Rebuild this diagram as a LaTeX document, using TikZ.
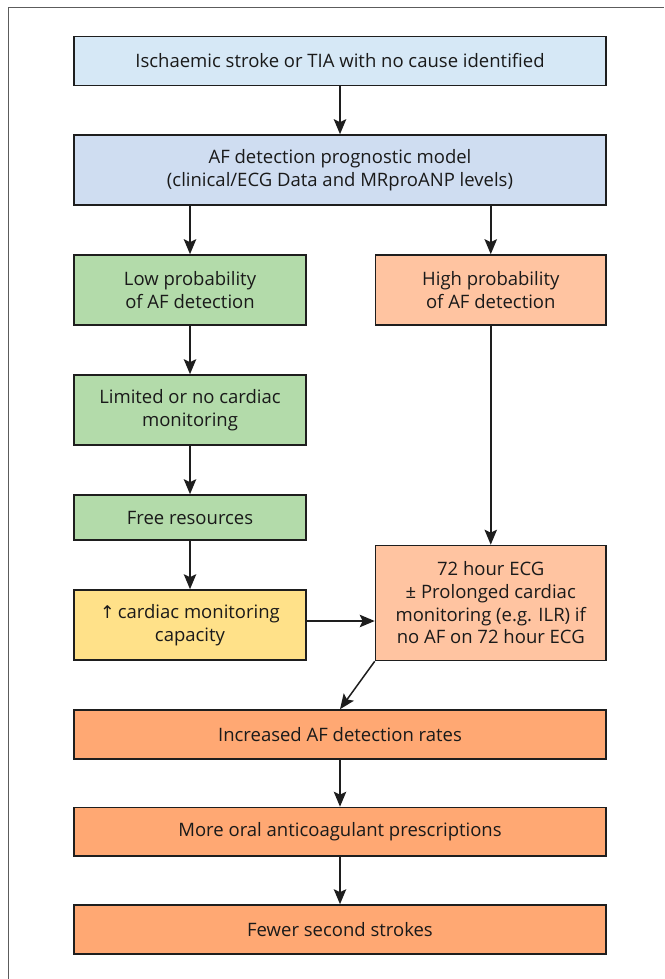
\documentclass[tikz,border=0pt]{standalone}
\usepackage{fontspec}
\setmainfont{Open Sans}
\newfontfamily\symfnt{DejaVu Sans}
\usetikzlibrary{arrows.meta,calc}
\definecolor{cBlueA}{HTML}{D6E8F6}
\definecolor{cBlueB}{HTML}{CFDDF1}
\definecolor{cGreen}{HTML}{B3DBAA}
\definecolor{cPeach}{HTML}{FFC4A1}
\definecolor{cYellow}{HTML}{FFE189}
\definecolor{cOrange}{HTML}{FFA873}
\definecolor{cBorder}{HTML}{1E1E1E}
\definecolor{cFrame}{HTML}{5C5C5C}
\definecolor{cText}{HTML}{1A1A1A}
\begin{document}
\begin{tikzpicture}[x=1pt,y=-1pt,
  boxstyle/.style={draw=cBorder,line width=1.6pt,inner sep=0pt,align=center,
    text=cText,font=\fontsize{18.5}{22.7}\selectfont},
  arr/.style={draw=cBorder,line width=1.5pt,-{Stealth[length=15pt,width=12.5pt,inset=3pt]}}]
\useasboundingbox (0,0) rectangle (664,979);
\draw[cFrame,line width=1.3pt] (8.5,979) -- (8.5,7.5) -- (664,7.5);
\node[boxstyle,fill=cBlueA,minimum width=532pt,minimum height=49pt] (b1) at (340,61) {Ischaemic stroke or TIA with no cause identified};
\node[boxstyle,fill=cBlueB,minimum width=532pt,minimum height=70pt] (b2) at (340,170) {AF detection prognostic model\\(clinical/ECG Data and MRproANP levels)};
\node[boxstyle,fill=cGreen,minimum width=232pt,minimum height=70pt] (lo) at (190,290) {Low probability\\of AF detection};
\node[boxstyle,fill=cPeach,minimum width=230.5pt,minimum height=70pt] (hi) at (490.75,290) {High probability\\of AF detection};
\node[boxstyle,fill=cGreen,minimum width=232pt,minimum height=70pt] (lim) at (190,410) {Limited or no cardiac\\monitoring};
\node[boxstyle,fill=cGreen,minimum width=232pt,minimum height=45pt] (free) at (190,517.5) {Free resources};
\node[boxstyle,fill=cYellow,minimum width=232pt,minimum height=70pt] (cap) at (190,625) {{\symfnt\fontsize{17.5}{22.7}\selectfont ↑}\,cardiac monitoring\\capacity};
\node[boxstyle,fill=cPeach,minimum width=230.5pt,minimum height=115pt] (ecg) at (490.75,603) {72 hour ECG\\± Prolonged cardiac\\monitoring (e.g. ILR) if\\no AF on 72 hour ECG};
\node[boxstyle,fill=cOrange,minimum width=532pt,minimum height=49pt] (inc) at (340,734.5) {Increased AF detection rates};
\node[boxstyle,fill=cOrange,minimum width=532pt,minimum height=48.5pt] (ora) at (340,831.75) {More oral anticoagulant prescriptions};
\node[boxstyle,fill=cOrange,minimum width=532pt,minimum height=49pt] (few) at (340,929.5) {Fewer second strokes};
\draw[arr] (b1.south) -- (b2.north);
\draw[arr] (lo.north |- b2.south) -- (lo.north);
\draw[arr] (hi.north |- b2.south) -- (hi.north);
\draw[arr] (lo.south) -- (lim.north);
\draw[arr] (lim.south) -- (free.north);
\draw[arr] (free.south) -- (cap.north);
\draw[arr] (hi.south) -- (ecg.north);
\coordinate (capout) at ([yshift=4pt]cap.east);
\draw[arr] (capout) -- (capout -| ecg.west);
\draw[arr] (ecg.south west) -- (inc.north);
\draw[arr] (inc.south) -- (ora.north);
\draw[arr] (ora.south) -- (few.north);
\end{tikzpicture}
\end{document}
